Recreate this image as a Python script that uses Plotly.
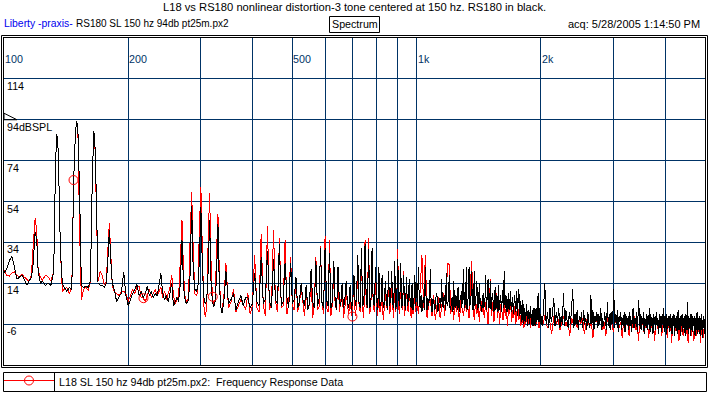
import numpy as np
import plotly.graph_objects as go

# ---------------- data (Hz, dB SPL) ----------------
# fundamental region 100-200 Hz (explicit frequency points)
freq_fund = [100, 101.5, 103, 104.5, 106, 107.5, 109, 110.5, 112, 113.5,
             115, 116.5, 117.5, 119, 120, 121, 122.5, 124, 126, 128,
             130, 132, 133, 134, 135, 136, 137, 138.5, 140, 142,
             144, 146, 147.5, 149, 150, 151, 152.5, 154, 156, 158,
             160, 162, 163.5, 165, 166, 167.5, 169, 171, 173, 175,
             177, 178.5, 180, 181.5, 183, 185, 187.5, 190, 192.5, 195,
             197.5]
black_fund = [19, 21, 25, 27, 22, 16, 17, 18, 16, 13,
              15, 17, 22, 39, 36, 20, 14, 15, 13, 14,
              13, 20, 60, 87, 85, 60, 30, 14, 12, 10,
              12, 11, 64, 88, 93.5, 90, 58, 13, 12, 12.5,
              12, 15, 60, 88.6, 84, 55, 14, 13, 13, 12,
              14, 25, 40, 25, 14, 11, 5, 7.4, 9, 19.7,
              8]
red_fund = [20.5, 18, 17.5, 19, 19.5, 18, 17, 18.5, 17, 16,
            15, 18, 30, 46, 40, 20, 17, 15.5, 18, 17,
            15, 20, 60, 87, 85, 60, 30, 10, 11, 12,
            9, 12, 64, 88, 93.5, 90, 40, 6, 11, 12,
            10.5, 15, 60, 88.6, 84, 50, 15, 19.7, 18, 13,
            15, 30, 43.5, 28, 13, 10, 9, 8, 10, 10,
            9]

# second-harmonic region 200-342.5 Hz, 2.5 Hz bins
freq_h2 = np.arange(200, 345, 2.5)
black_h2 = [3, 6, 9, 11, 13.5, 8, 10, 7, 9, 12.5,
            8, 10, 7, 9, 8, 13, 19, 9, 6, 8,
            5, 9, 14, 3, 5, 7, 5, 14, 35, 12,
            5, 4, 6, 18, 52, 20, 11, 10, 12, 25,
            51.5, 22, 7, 4, 6, 20, 45, 15, 5, 2.5,
            5, 18, 43, 14, 3, -0.5, 3, 9]
red_h2 = [5, 8, 11, 9, 12, 12.5, 7, 6.7, 5, 8,
          11, 7, 9, 11, 8, 10, 12, 7, 10, 6,
          9, 12, 18, 8, 4, 6, 8, 25, 45, 18,
          6, 5, 7, 35, 58.8, 30, 9, 8, 10, 40,
          61.2, 30, 3, -2.4, 2, 35, 58, 25, 7, 3,
          6, 30, 48, 20, 2, 1, 5, 12]

# 345-995 Hz, 5 Hz bins (products every 15 Hz)
freq_mid = np.arange(345, 1000, 5)
black_mid = [20, 4, 6, 9, 1, 5, 8, 3, 7, 7, 2, 4, 19, 5, 3, 27, 4, 6, 30, 5, 2, 26, 6, 4, 33, 3, 5, 24, 7, 2,
             24, 4, 6, 17, 2, 5, 14, 6, 3, 13, 1, 4, 21, 5, 2, 25, 3, 6, 31, 4, 2, 31, 6, 3, 29, 2, 5, 25, 4, 1,
             22, 5, 3, 14, 2, 6, 15, 4, 2, 13, 1, 5, 18, 3, 6, 28, 5, 2, 31, 3, 4, 33, 6, 2, 31, 2, 5, 31, 4, 3,
             22, 6, 1, 22, 3, 5, 18, 2, 4, 15, 5, 1, 20, 3, 6, 20, 4, 2, 25, 1, 5, 26, 6, 3, 24, 2, 4, 18, 5, 1,
             17, 3, 6, 16, 4, 2, 14, 1, 5, 18, 3]
red_mid = [24, 2, 5, 11, 0, 3, 6, 4, 1, 9, -1, 3, 28, 2, 0, 38, 3, -2, 42, 1, 4, 40, 5, 0, 36, 2, 3, 35, -1, 4,
           27, 3, 1, 17, 0, 4, 12, 5, -2, 10, 2, 3, 15, -3, 4, 27, 1, 2, 32, 4, -1, 37, 2, 0, 35, -2, 4, 20, 3, 1,
           20, 0, 5, 12, -3, 2, 10, 3, -1, 9, -2, 4, 17, -2, 3, 22, 4, 0, 28, 1, -3, 35, 2, 3, 36, -1, 4, 27, 3, 0,
           14, 5, -2, 12, 0, 3, 10, -4, 2, 11, 2, 4, 14, -1, 1, 16, 3, -3, 20, 0, 4, 31, 2, -1, 22, 4, 1, 20, -2, 3,
           14, 1, 0, 13, 3, -3, 10, -1, 2, 15, 0]

# 1000-1995 Hz: black at 5 Hz bins, red at 10 Hz bins
freq_upper_black = np.arange(1000, 2000, 5)
black_upper = [14, 3, 22, 6, 2, 8, 0, 5, 7, 1,
               22, 4, 1, 7, 3, 9, 21, 2, 0, 6,
               6, 1, 2, 8, 9, 0, 1, 6, 7, 2,
               16, 3, 2, 7, 8, 1, 19, 4, 3, 8,
               18, 2, 1, 6, 7, 0, 15, 5, 2, 8,
               6, 1, 12, 3, 0, 7, 8, 2, 14, 4,
               21, 2, 3, 7, 22, 1, 5, 8, 22, 3,
               4, 8, 20, 2, 1, 6, 20, 3, 6, 9,
               15, 1, 2, 8, 14, 3, 7, 0, 1, 6,
               9, 2, 3, 7, 18, 1, 5, 8, 16, 2,
               2, 7, 15, 1, 4, 9, 8, 2, 0, 6,
               12, 1, 3, 8, 7, 0, 13, 4, 1, 7,
               8, 0, 4, 7, 11, 2, 20, 5, 2, 8,
               7, 0, 0, 6, 9, 1, 3, 7, 10, 0,
               1, 7, 6, -1, 3, 6, 8, 0, 0, 5,
               10, -2, 4, 6, 11, -1, -2, 5, 5, -3,
               -5, 2, 6, -4, -6, 1, 2, -5, -4, 3,
               4, -6, -7, 1, 0, -6, -3, 2, 3, -5,
               -6, 0, 1, -7, -4, 2, 0, -6, -7, 1,
               2, -5, -3, 3, 9, -4, -5, 2, 0, -6]
freq_upper_red = np.arange(1000, 2000, 10)
red_upper = [5, -1, 10, 28, 2, 28, -3, 4, 6, -2,
             8, -4, 3, 7, -3, 2, 9, -2, 10, 24,
             23, -1, 5, -4, 8, 0, 4, -5, 6, 1,
             -2, 7, 0, 3, -3, 12, 25, 2, -4, 6,
             -1, 3, -5, 7, 0, 2, -3, 5, 1, -6,
             4, 16, -2, 5, -5, 2, 9, -3, 3, -6,
             4, 0, -4, 5, -2, 3, -7, 2, -1, 4,
             -5, 1, -3, 3, -6, 0, 2, -4, -1, -7,
             0, -5, -8, -2, -6, 1, -7, -3, -1, -8,
             -2, -5, 0, -7, -3, -6, 1, -4, -8, -2]

# 2000-4985 Hz: black at 15 Hz bins, red at 25 Hz bins
freq_high_black = np.arange(2000, 5000, 15)
black_high = [-1, -7, 1, 14, -6, 0, -8, 2, -5, -1,
              7, -7, 0, -5, 2, -8, -2, -6, 9, -7,
              1, -4, -8, 0, -6, 2, 11, -8, -1, -6,
              1, -9, -2, -5, 0, -8, 1, -6, -3, -9,
              0, -5, -8, 8, -6, 1, -9, -2, -5, 0,
              -8, -1, -6, 2, -9, -3, -7, 0, -5, -9,
              5, -7, -1, -9, 0, -6, -2, 11, -8, -1,
              -6, 1, -10, -2, -5, 0, -9, -3, -7, 0,
              -10, -1, -6, -3, -9, 0, -7, -2, -10, -1,
              2, -8, -3, -6, 0, -10, -2, 6, -7, -1,
              -9, -2, -6, 0, -11, -3, -7, -1, -9, -2,
              -6, 2, -10, -1, -7, -3, -11, -1, -6, -2,
              -9, 0, -7, -3, -11, -1, -8, -2, -10, -1,
              -6, 2, -10, -2, -8, -1, -11, -3, -7, -2,
              -10, -1, -8, -3, -11, -2, -7, -1, -12, -3,
              -8, -2, -11, -1, 1, -9, -3, -12, -2, -7,
              -1, -10, -3, -8, -2, -12, -1, -9, -3, 5,
              -11, -2, -8, -3, -12, -1, -9, -2, -10, -3,
              -7, -2, -12, -3, -9, -1, 0, -11, -3, -8,
              -2, -12, -3, -9, -1, -13, -4, -8, -2, -11]
freq_high_red = np.arange(2000, 5000, 25)
red_high = [-3, -6, -1, -8, -4, -11, -2, -6, -3, -9,
            -5, -2, -7, -4, -12, -3, -6, -1, -8, -4,
            -6, -3, -11, -5, -2, -8, -4, -13, -5, -3,
            -7, -4, -2, -9, -5, -12, -3, -7, -4, -6,
            -10, -4, -6, -3, -8, -5, -13, -4, -7, -2,
            -6, -12, -3, -8, -5, -2, -9, -5, -14, -4,
            -7, -3, -10, -5, -8, -4, -13, -6, -3, -9,
            -5, -14, -6, -3, -9, -6, -4, -12, -7, -5,
            -8, -4, -13, -6, -9, -5, -15, -7, -4, -10,
            -6, -9, -5, -14, -7, -10, -4, -12, -8, -6,
            -11, -5, -15, -8, -6, -12, -4, -9, -14, -7,
            -8, -12, -6, -10, -5, -15, -9, -7, -13, -8]

# red series data markers
marker_freqs = [147.4, 217.8, 320.6, 699]
marker_vals = [64.5, 6.7, 7.4, -2.3]

# axis grid / labels
x_grid = [200, 300, 400, 500, 600, 700, 800, 900, 1000, 2000, 3000, 4000]
x_label_freqs = [100, 200, 500, 1000, 2000]
x_label_text = ["100", "200", "500", "1k", "2k"]
y_grid = [-6, 14, 34, 54, 74, 94, 114]
y_label_text = ["-6", "14", "34", "54", "74", "94dBSPL", "114"]

title_text = "L18 vs RS180 nonlinear distortion-3 tone centered at 150 hz. RS180 in black."
legend_text = "L18 SL 150 hz 94db pt25m.px2:  Frequency Response Data"

# ---------------- assemble ----------------
black_parts = [(freq_fund, black_fund), (freq_h2, black_h2), (freq_mid, black_mid),
               (freq_upper_black, black_upper), (freq_high_black, black_high)]
red_parts = [(freq_fund, red_fund), (freq_h2, red_h2), (freq_mid, red_mid),
             (freq_upper_red, red_upper), (freq_high_red, red_high)]
for i, (f, v) in enumerate(black_parts + red_parts):
    assert len(f) == len(v), (i, len(f), len(v))
black_f = np.concatenate([np.asarray(p[0], float) for p in black_parts])
black_v = np.concatenate([np.asarray(p[1], float) for p in black_parts])
red_f = np.concatenate([np.asarray(p[0], float) for p in red_parts])
red_v = np.concatenate([np.asarray(p[1], float) for p in red_parts])

# ---------------- layout helpers ----------------
W, H = 709, 395
ML, MR, MT, MB = 4, 4, 38, 30
PW, PH = W - ML - MR, H - MT - MB
GRID = "#003366"
FONT = "Liberation Sans, Arial, sans-serif"
FS = 10.7


def px_x(p):
    return (p - ML) / PW


def px_y(p):
    return (H - MB - p) / PH


fig = go.Figure()
fig.add_trace(go.Scatter(x=red_f, y=red_v, mode="lines",
                         line=dict(color="#ff0000", width=1, simplify=False),
                         hoverinfo="skip"))
fig.add_trace(go.Scatter(x=black_f, y=black_v, mode="lines",
                         line=dict(color="#000000", width=1, simplify=False),
                         hoverinfo="skip"))
fig.add_trace(go.Scatter(x=marker_freqs, y=marker_vals, mode="markers",
                         marker=dict(symbol="circle-open", size=9, color="#ff0000",
                                     line=dict(width=1, color="#ff0000")),
                         hoverinfo="skip"))

fig.update_layout(width=W, height=H, margin=dict(l=ML, r=MR, t=MT, b=MB),
                  paper_bgcolor="white", plot_bgcolor="white", showlegend=False,
                  font=dict(family=FONT, size=FS, color="black"))
fig.update_xaxes(type="log", range=[2, np.log10(5000)], tickvals=x_grid,
                 showticklabels=False, ticks="", showgrid=True, gridcolor=GRID,
                 gridwidth=1, showline=True, linecolor="black", linewidth=1,
                 mirror=True, zeroline=False)
fig.update_yaxes(range=[-26, 134], tickvals=y_grid, showticklabels=False,
                 ticks="", showgrid=True, gridcolor=GRID, gridwidth=1,
                 showline=True, linecolor="black", linewidth=1, mirror=True,
                 zeroline=False)

ann = []
for f, t in zip(x_label_freqs, x_label_text):
    ann.append(dict(x=np.log10(f), xref="x", y=px_y(59), yref="paper", text=t,
                    showarrow=False, xanchor="left", yanchor="middle", xshift=-1,
                    font=dict(family=FONT, size=FS, color=GRID)))
for v, t in zip(y_grid, y_label_text):
    ann.append(dict(x=px_x(5), xref="paper", y=v, yref="y", text=t,
                    showarrow=False, xanchor="left", yanchor="middle", yshift=-7,
                    font=dict(family=FONT, size=FS, color="black")))
ann.append(dict(x=px_x(355), xref="paper", y=px_y(7.5), yref="paper", text=title_text,
                showarrow=False, xanchor="center", yanchor="middle",
                font=dict(family=FONT, size=11.2, color="black")))
ann.append(dict(x=px_x(2), xref="paper", y=px_y(24), yref="paper", text="Liberty -praxis-",
                showarrow=False, xanchor="left", yanchor="middle",
                font=dict(family=FONT, size=10.4, color="#0000ee")))
ann.append(dict(x=px_x(74), xref="paper", y=px_y(24), yref="paper",
                text="RS180 SL 150 hz 94db pt25m.px2",
                showarrow=False, xanchor="left", yanchor="middle",
                font=dict(family=FONT, size=10, color="black")))
ann.append(dict(x=px_x(354.5), xref="paper", y=px_y(24), yref="paper", text="Spectrum",
                showarrow=False, xanchor="center", yanchor="middle"))
ann.append(dict(x=px_x(702), xref="paper", y=px_y(24), yref="paper",
                text="acq: 5/28/2005 1:14:50 PM",
                showarrow=False, xanchor="right", yanchor="middle",
                font=dict(family=FONT, size=11, color="black")))
ann.append(dict(x=px_x(57), xref="paper", y=px_y(381.5), yref="paper", text=legend_text,
                showarrow=False, xanchor="left", yanchor="middle"))

shapes = []
# outer frame
shapes.append(dict(type="rect", xref="paper", yref="paper",
                   x0=px_x(1.5), x1=px_x(707.5), y0=px_y(367.5), y1=px_y(35.5),
                   line=dict(color="black", width=1)))
# reference level triangle
shapes.append(dict(type="path", xref="paper", yref="y",
                   path=f"M {px_x(4)},94 L {px_x(4)},97.2 L {px_x(17)},94 Z",
                   line=dict(color="black", width=1)))
# Spectrum box
shapes.append(dict(type="rect", xref="paper", yref="paper",
                   x0=px_x(329.5), x1=px_x(379.5), y0=px_y(32.5), y1=px_y(16.5),
                   line=dict(color="black", width=1)))
# legend box
shapes.append(dict(type="rect", xref="paper", yref="paper",
                   x0=px_x(3.5), x1=px_x(706.5), y0=px_y(391.5), y1=px_y(372.5),
                   line=dict(color="black", width=1)))
shapes.append(dict(type="line", xref="paper", yref="paper",
                   x0=px_x(54.5), x1=px_x(54.5), y0=px_y(391.5), y1=px_y(372.5),
                   line=dict(color="black", width=1)))
shapes.append(dict(type="line", xref="paper", yref="paper",
                   x0=px_x(4), x1=px_x(54), y0=px_y(380.5), y1=px_y(380.5),
                   line=dict(color="#ff0000", width=1)))
shapes.append(dict(type="circle", xref="paper", yref="paper",
                   x0=px_x(24.5), x1=px_x(33.5), y0=px_y(385), y1=px_y(376),
                   line=dict(color="#ff0000", width=1), fillcolor="rgba(0,0,0,0)"))

fig.update_layout(annotations=ann, shapes=shapes)

post_js = (
    "document.body.style.margin='0px';document.body.style.padding='0px';"
    "var s=document.createElement('style');"
    "s.innerHTML='.scatterlayer .js-line{shape-rendering:crispEdges;}';"
    "document.head.appendChild(s);"
)
fig.write_html("out.html", config={"displayModeBar": False}, post_script=post_js)
